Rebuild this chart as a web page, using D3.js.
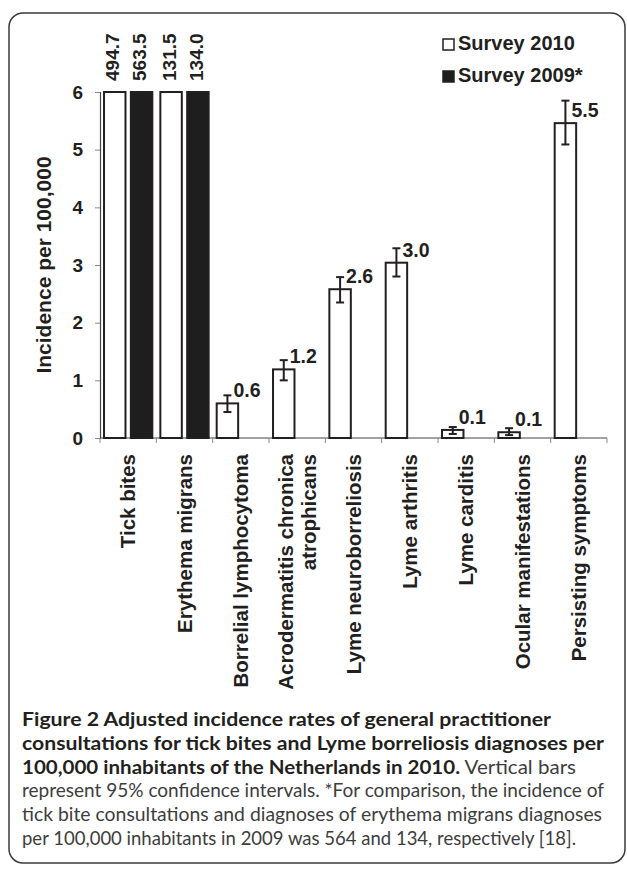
<!DOCTYPE html>
<html>
<head>
<meta charset="utf-8">
<script src="https://cdn.jsdelivr.net/npm/d3@7"></script>
<style>
  body { margin: 0; background: #fff; }
  .chart text { font-family: "Liberation Sans", Arial, sans-serif; font-weight: bold; fill: #231f20; }
  .caption text { font-family: Lato, "Open Sans", sans-serif; }
</style>
</head>
<body>
<div id="chart"></div>
<script>
'use strict';

// categories and values
const categories = ['Tick bites', 'Erythema migrans', 'Borrelial lymphocytoma',
    'Acrodermatitis chronica\natrophicans', 'Lyme neuroborreliosis', 'Lyme arthritis',
    'Lyme carditis', 'Ocular manifestations', 'Persisting symptoms'];
const seriesNames = ['Survey 2010', 'Survey 2009*'];
const survey2010 = [494.7, 131.5, 0.60, 1.19, 2.58, 3.04, 0.14, 0.10, 5.46];
const survey2009 = [563.5, 134.0, null, null, null, null, null, null, null];
const ciLow = [null, null, 0.45, 1.00, 2.35, 2.80, 0.07, 0.05, 5.09];
const ciHigh = [null, null, 0.74, 1.35, 2.79, 3.29, 0.19, 0.17, 5.85];
const yTicks = [0, 1, 2, 3, 4, 5, 6];
const yMax = 6;

const captionLines = [
    [['Figure 2 Adjusted incidence rates of general practitioner', true]],
    [['consultations for tick bites and Lyme borreliosis diagnoses per', true]],
    [['100,000 inhabitants of the Netherlands in 2010.', true], [' Vertical bars', false]],
    [['represent 95% confidence intervals. *For comparison, the incidence of', false]],
    [['tick bite consultations and diagnoses of erythema migrans diagnoses', false]],
    [['per 100,000 inhabitants in 2009 was 564 and 134, respectively [18].', false]]
];
const captionWidths = [529, 582, 554, 582, 580, 554];

let config = {
    width: 627,
    height: 870,
    margin: { top: 92, left: 100, right: 20, bottom: 432 }
};

let svg = d3.select('#chart').append('svg')
    .attr('width', config.width)
    .attr('height', config.height);

// rounded frame
svg.append('rect')
    .attr('x', 9).attr('y', 13)
    .attr('width', 616).attr('height', 850)
    .attr('rx', 14)
    .attr('fill', 'none')
    .attr('stroke', '#3a3a3a')
    .attr('stroke-width', 1.5);

let chart = svg.append('g').attr('class', 'chart');

let x0 = d3.scaleBand()
    .domain(categories)
    .range([config.margin.left, config.width - config.margin.right])
    .padding(0);

let x1 = d3.scaleBand()
    .domain(seriesNames)
    .range([0, x0.bandwidth()])
    .paddingInner(0.2)
    .paddingOuter(0.15);

let yScale = d3.scaleLinear()
    .domain([0, yMax])
    .range([config.height - config.margin.bottom, config.margin.top]);

// y axis
let yAxis = d3.axisLeft(yScale).tickValues(yTicks).tickFormat(d3.format('d')).tickSize(5).tickPadding(12);
let yG = chart.append('g')
    .attr('transform', 'translate(' + config.margin.left + ',0)')
    .call(yAxis);
yG.select('.domain').attr('stroke', '#444').attr('stroke-width', 1.2);
yG.selectAll('.tick line').attr('stroke', '#888');
yG.selectAll('.tick text').style('font-size', '19px').attr('fill', '#231f20');

// x axis line and band ticks
let baseY = yScale(0);
chart.append('line')
    .attr('x1', x0.range()[0]).attr('x2', x0.range()[1])
    .attr('y1', baseY).attr('y2', baseY)
    .attr('stroke', '#444').attr('stroke-width', 1.2);

let edges = categories.map(c => x0(c)).concat([x0.range()[1]]);
chart.selectAll('.xtick')
    .data(edges)
    .enter().append('line')
    .attr('class', 'xtick')
    .attr('x1', d => d).attr('x2', d => d)
    .attr('y1', baseY).attr('y2', baseY + 5)
    .attr('stroke', '#888');

// x labels
let xl = chart.selectAll('.xlabel')
    .data(categories)
    .enter().append('text')
    .attr('class', 'xlabel')
    .attr('transform', d => 'translate(' + (x0(d) + x0.bandwidth() / 2) + ',' + (baseY + 16) + ') rotate(-90)')
    .attr('text-anchor', 'end')
    .style('font-size', '20.5px');
xl.each(function(d) {
    let lines = d.split('\n');
    let el = d3.select(this);
    lines.forEach((ln, i) => {
        el.append('tspan')
            .attr('x', 0)
            .attr('dy', i === 0 ? (0.35 - (lines.length - 1) * 0.56) + 'em' : '1.12em')
            .text(ln);
    });
});

// y axis title
chart.append('text')
    .attr('transform', 'translate(44,' + ((yScale(0) + yScale(yMax)) / 2) + ') rotate(-90)')
    .attr('text-anchor', 'middle')
    .attr('dy', '0.35em')
    .style('font-size', '21px')
    .text('Incidence per 100,000');

// bars
let barData = [];
categories.forEach((c, i) => {
    if (survey2010[i] != null) barData.push({ cat: c, s: seriesNames[0], v: survey2010[i], i: i });
    if (survey2009[i] != null) barData.push({ cat: c, s: seriesNames[1], v: survey2009[i], i: i });
});

chart.selectAll('.bar')
    .data(barData)
    .enter().append('rect')
    .attr('class', 'bar')
    .attr('x', d => x0(d.cat) + x1(d.s))
    .attr('width', x1.bandwidth())
    .attr('y', d => yScale(Math.min(d.v, yMax)))
    .attr('height', d => baseY - yScale(Math.min(d.v, yMax)))
    .attr('fill', d => d.s === seriesNames[0] ? '#fff' : '#1e1e1e')
    .attr('stroke', '#231f20')
    .attr('stroke-width', 2);

// labels of clipped bars (rotated, above the plot)
chart.selectAll('.toplabel')
    .data(barData.filter(d => d.v > yMax))
    .enter().append('text')
    .attr('class', 'toplabel')
    .attr('transform', d => 'translate(' + (x0(d.cat) + x1(d.s) + x1.bandwidth() / 2 - 2) + ',' + (yScale(yMax) - 11) + ') rotate(-90)')
    .attr('dy', '0.35em')
    .style('font-size', '19px')
    .text(d => d3.format('.1f')(d.v));

// error bars
let errData = categories.map((c, i) => ({ cat: c, lo: ciLow[i], hi: ciHigh[i], v: survey2010[i] }))
    .filter(d => d.lo != null);
let cx = d => x0(d.cat) + x1(seriesNames[0]) + x1.bandwidth() / 2;

let eb = chart.selectAll('.err').data(errData).enter().append('g').attr('class', 'err')
    .attr('stroke', '#231f20').attr('stroke-width', 2);
eb.append('line').attr('x1', cx).attr('x2', cx).attr('y1', d => yScale(d.lo)).attr('y2', d => yScale(d.hi));
eb.append('line').attr('x1', d => cx(d) - 4).attr('x2', d => cx(d) + 4).attr('y1', d => yScale(d.lo)).attr('y2', d => yScale(d.lo));
eb.append('line').attr('x1', d => cx(d) - 4).attr('x2', d => cx(d) + 4).attr('y1', d => yScale(d.hi)).attr('y2', d => yScale(d.hi));

// value labels
chart.selectAll('.vlabel')
    .data(errData)
    .enter().append('text')
    .attr('class', 'vlabel')
    .attr('x', d => cx(d) + 6)
    .attr('y', d => yScale(d.v) - 13)
    .attr('dy', '0.35em')
    .style('font-size', '19.5px')
    .text(d => d3.format('.1f')(d.v));

// legend
let legend = chart.selectAll('.legend')
    .data(seriesNames)
    .enter().append('g')
    .attr('class', 'legend')
    .attr('transform', (d, i) => 'translate(443,' + (39 + i * 32) + ')');
legend.append('rect')
    .attr('width', 11).attr('height', 11)
    .attr('fill', (d, i) => i === 0 ? '#fff' : '#1e1e1e')
    .attr('stroke', '#231f20').attr('stroke-width', 1.5);
legend.append('text')
    .attr('x', 15).attr('y', 11)
    .style('font-size', '20px')
    .text(d => d);

// caption
let cap = svg.append('g').attr('class', 'caption');
captionLines.forEach((parts, i) => {
    let t = cap.append('text')
        .attr('x', 22)
        .attr('y', 726 + i * 23.8)
        .attr('textLength', captionWidths[i])
        .attr('lengthAdjust', 'spacingAndGlyphs')
        .style('font-size', '19px');
    parts.forEach(p => {
        t.append('tspan')
            .attr('font-weight', p[1] ? 700 : 400)
            .attr('fill', p[1] ? '#231f20' : '#3d3d3d')
            .text(p[0]);
    });
});
</script>
</body>
</html>
